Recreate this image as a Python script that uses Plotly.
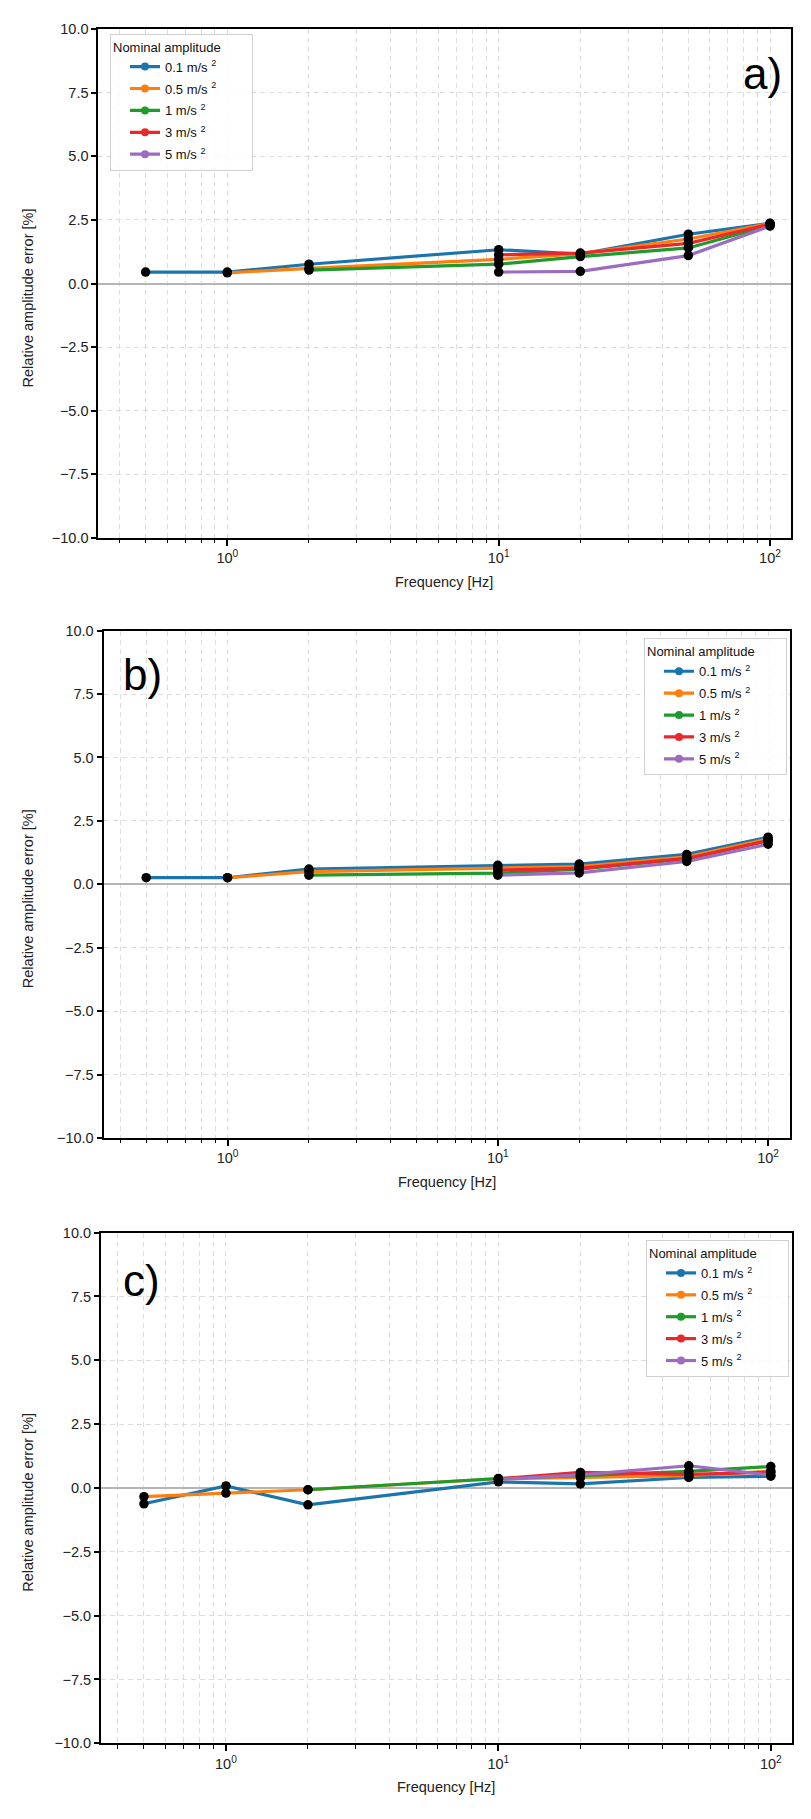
import plotly.graph_objects as go

# ---------------- data ----------------
freq = [0.5, 1, 2, 10, 20, 50, 100]
series_units = ["0.1", "0.5", "1", "3", "5"]
series_colors = ["#1b75ad", "#ff7f0e", "#1f9a2c", "#e8282b", "#9b6cc0"]

# panel a)
a_01 = [0.45, 0.45, 0.76, 1.33, 1.16, 1.94, 2.37]
a_05 = [None, 0.42, 0.60, 0.95, 1.18, 1.75, 2.36]
a_1 = [None, None, 0.53, 0.76, 1.06, 1.40, 2.28]
a_3 = [None, None, None, 1.13, 1.20, 1.58, 2.33]
a_5 = [None, None, None, 0.45, 0.48, 1.10, 2.26]

# panel b)
b_01 = [0.26, 0.26, 0.60, 0.75, 0.80, 1.18, 1.86]
b_05 = [None, 0.26, 0.50, 0.64, 0.70, 1.08, 1.79]
b_1 = [None, None, 0.36, 0.44, 0.60, 1.00, 1.72]
b_3 = [None, None, None, 0.56, 0.63, 1.02, 1.72]
b_5 = [None, None, None, 0.36, 0.45, 0.90, 1.58]

# panel c)
c_01 = [-0.62, 0.08, -0.66, 0.24, 0.16, 0.41, 0.46]
c_05 = [-0.34, -0.20, -0.07, 0.36, 0.40, 0.48, 0.66]
c_1 = [None, None, -0.07, 0.37, 0.48, 0.65, 0.84]
c_3 = [None, None, None, 0.36, 0.61, 0.53, 0.62]
c_5 = [None, None, None, 0.34, 0.51, 0.87, 0.50]

panel_letters = ["a)", "b)", "c)"]
legend_title = "Nominal amplitude"
y_ticks = [-10.0, -7.5, -5.0, -2.5, 0.0, 2.5, 5.0, 7.5, 10.0]
x_major = [1, 10, 100]
x_major_text = ["10<sup>0</sup>", "10<sup>1</sup>", "10<sup>2</sup>"]
x_minor = [0.4, 0.5, 0.6, 0.7, 0.8, 0.9, 2, 3, 4, 5, 6, 7, 8, 9,
           20, 30, 40, 50, 60, 70, 80, 90]

panels = [[a_01, a_05, a_1, a_3, a_5],
          [b_01, b_05, b_1, b_3, b_5],
          [c_01, c_05, c_1, c_3, c_5]]

# ---------------- layout geometry (pixels) ----------------
W, H = 811, 1819
FONT = "Liberation Sans, Arial, Helvetica, sans-serif"
# left, right, top, bottom of each plot area
boxes = [(98.3, 790.5, 21.4, 534.6),
         (103.5, 790.0, 628.2, 1140.0),
         (100.9, 791.5, 1235.5, 1750.7)]
xranges = [[-0.4754, 2.0755], [-0.459, 2.081], [-0.459, 2.076]]
legend_pos = [(110, 26), (644, 636), (646, 1243)]
letter_pos = [(762, 66), (142, 672), (141, 1284)]

fig = go.Figure()

grid_col = "#dddddd"
grid_dash = "5px,4px"
NB = "\u00a0"
# legend labels: "X m/s ²" with a little right padding kept inside the superscript
series_labels = [f"{u} m/s <sup>2{NB * 12}</sup>" for u in series_units]

annotations = []
for p in range(3):
    suf = "" if p == 0 else str(p + 1)
    xa, ya = "x" + suf, "y" + suf
    leg = "legend" if p == 0 else "legend" + str(p + 1)
    # coloured lines (with coloured markers for the legend)
    for s in range(5):
        fig.add_trace(go.Scatter(
            x=freq, y=panels[p][s], mode="lines+markers",
            name=series_labels[s],
            line=dict(color=series_colors[s], width=3.2),
            marker=dict(color=series_colors[s], size=8),
            xaxis=xa, yaxis=ya, legend=leg, legendgroup=f"{p}_{s}",
            showlegend=True, hoverinfo="x+y"))
    # black data points on top
    for s in range(5):
        fig.add_trace(go.Scatter(
            x=freq, y=panels[p][s], mode="markers",
            marker=dict(color="black", size=9.5),
            xaxis=xa, yaxis=ya, showlegend=False, hoverinfo="skip"))

    l, r, t, b = boxes[p]
    xdom = [l / W, r / W]
    ydom = [1 - b / H, 1 - t / H]
    xaxis = dict(
        type="log", range=xranges[p], domain=xdom, anchor=ya,
        tickvals=x_major, ticktext=x_major_text,
        ticks="outside", ticklen=6, tickwidth=1.5, tickcolor="black",
        showline=True, linecolor="black", linewidth=1.8, mirror=True,
        showgrid=True, gridcolor=grid_col, griddash=grid_dash, gridwidth=1,
        minor=dict(tickvals=x_minor, ticks="outside", ticklen=3.5, tickwidth=1,
                   tickcolor="black", showgrid=True, gridcolor=grid_col,
                   griddash=grid_dash, gridwidth=1),
        tickfont=dict(family=FONT, size=14.5, color="#222222"),
        zeroline=False, fixedrange=True)
    yaxis = dict(
        range=[-10, 10], domain=ydom, anchor=xa,
        tickvals=y_ticks,
        ticktext=[f"{v:.1f}".replace("-", "\u2212") for v in y_ticks],
        ticks="outside", ticklen=5, tickwidth=1.5, tickcolor="black",
        showline=True, linecolor="black", linewidth=1.8, mirror=True,
        showgrid=True, gridcolor=grid_col, griddash=grid_dash, gridwidth=1,
        zeroline=True, zerolinecolor="#b5b5b5", zerolinewidth=2,
        tickfont=dict(family=FONT, size=14.5, color="#222222"), fixedrange=True)
    fig.update_layout(**{"xaxis" + suf: xaxis, "yaxis" + suf: yaxis})

    lx, ly = legend_pos[p]
    fig.update_layout(**{leg: dict(
        x=lx / W, y=1 - ly / H, xanchor="left", yanchor="top",
        bgcolor="rgba(255,255,255,0.85)", bordercolor="#d0d0d0", borderwidth=1,
        title=dict(text=legend_title,
                   font=dict(family=FONT, size=13, color="#111111")),
        font=dict(family=FONT, size=13, color="#111111"),
        tracegroupgap=2, itemwidth=30, indentation=14)})

    # panel letter
    px, py = letter_pos[p]
    annotations.append(dict(text=panel_letters[p], x=px / W, y=1 - py / H,
                            xref="paper", yref="paper", showarrow=False,
                            xanchor="center", yanchor="middle",
                            font=dict(family=FONT, size=44, color="black")))
    # axis titles
    annotations.append(dict(text="Relative amplitude error [%]", x=28 / W,
                            y=1 - ((t + b) / 2 + 15) / H, xref="paper", yref="paper",
                            showarrow=False, textangle=-90, xanchor="center",
                            yanchor="middle",
                            font=dict(family=FONT, size=14.5, color="#222222")))
    annotations.append(dict(text="Frequency [Hz]", x=(l + r) / 2 / W,
                            y=1 - (b + 44) / H, xref="paper", yref="paper",
                            showarrow=False, xanchor="center", yanchor="middle",
                            font=dict(family=FONT, size=14.5, color="#222222")))

fig.update_layout(
    width=W, height=H, margin=dict(l=0, r=0, t=0, b=0),
    paper_bgcolor="white", plot_bgcolor="white",
    annotations=annotations, font=dict(family=FONT),
)

fig.write_html("out.html")
